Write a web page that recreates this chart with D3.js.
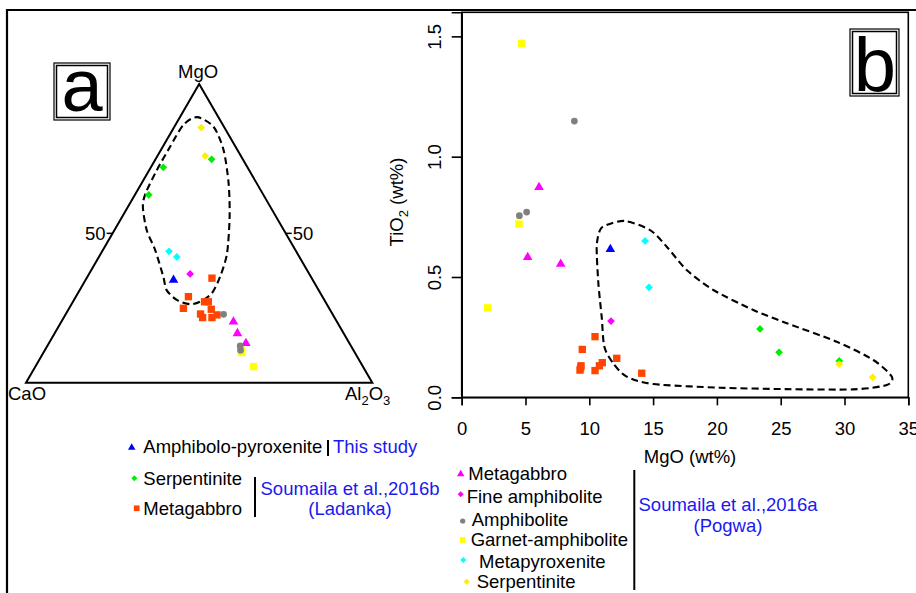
<!DOCTYPE html>
<html>
<head>
<meta charset="utf-8">
<script src="https://cdn.jsdelivr.net/npm/d3@7"></script>
<style>
  body { margin: 0; background: #fff; }
  svg { font-family: "Liberation Sans", Arial, sans-serif; }
</style>
</head>
<body>
<svg id="chart" width="916" height="593"></svg>
<script>
// ternary values: [MgO, CaO, Al2O3]
var amphPyxTern   = [[34.4, 40.2, 25.4]];
var serpLadTern   = [[74.8, 9.0, 16.2], [72.1, 24.3, 3.6], [62.9, 33.1, 4.0]];
var gabbroLadTern = [[35.0, 28.8, 36.2], [28.8, 38.7, 32.5], [24.9, 42.1, 33.0], [27.1, 34.9, 38.0],
                     [27.1, 33.8, 39.1], [24.6, 34.2, 41.2], [23.0, 38.1, 38.9], [21.8, 38.1, 40.1],
                     [21.8, 35.4, 42.8], [22.7, 33.5, 43.8]];
var gabbroPogTern = [[20.4, 29.9, 49.7], [16.5, 30.7, 52.8], [13.2, 29.9, 56.9]];
var fineAmphTern  = [[36.4, 34.4, 29.2]];
var amphTern      = [[22.9, 31.5, 45.6], [12.3, 32.0, 55.7], [10.9, 32.6, 56.5]];
var garnetTern    = [[10.9, 32.4, 56.7], [10.1, 32.7, 57.2], [5.4, 31.6, 63.0]];
var metaPyxTern   = [[44.0, 36.7, 19.3], [42.1, 35.4, 22.5]];
var serpPogTern   = [[85.4, 6.7, 7.9], [75.9, 10.3, 13.8]];
var ternField     = [[88.9, 6.2, 4.9], [85.7, 3.0, 11.3], [77.9, 4.0, 18.1], [66.8, 8.1, 25.1],
                     [55.6, 13.4, 31.0], [43.3, 20.3, 36.4], [35.5, 26.2, 38.3], [29.9, 31.4, 38.7],
                     [27.1, 36.2, 36.7], [26.3, 39.5, 34.2], [27.7, 42.6, 29.7], [31.0, 43.9, 25.1],
                     [35.5, 42.6, 21.9], [44.4, 40.5, 15.1], [51.1, 39.6, 9.3], [58.9, 36.8, 4.3],
                     [63.6, 33.6, 2.8], [71.2, 26.6, 2.2], [79.0, 18.9, 2.1], [86.3, 11.4, 2.3]];

// binary values: [MgO, TiO2]
var amphPyxBin   = [[11.65, 0.615]];
var serpLadBin   = [[23.38, 0.284], [24.87, 0.187], [29.59, 0.151]];
var gabbroLadBin = [[10.45, 0.252], [9.45, 0.199], [9.35, 0.131], [9.27, 0.113], [9.32, 0.122],
                    [10.45, 0.111], [10.79, 0.131], [11.02, 0.144], [12.15, 0.162], [14.11, 0.100]];
var gabbroPogBin = [[6.06, 0.873], [5.17, 0.582], [7.76, 0.554]];
var fineAmphBin  = [[11.70, 0.317]];
var amphBin      = [[8.83, 1.148], [4.52, 0.755], [5.09, 0.770]];
var garnetBin    = [[4.70, 1.471], [4.49, 0.720], [2.04, 0.372]];
var metaPyxBin   = [[14.37, 0.650], [14.68, 0.457]];
var serpPogBin   = [[29.59, 0.138], [32.21, 0.083]];
var binField     = [[10.84, 0.695], [11.36, 0.716], [12.80, 0.733], [14.76, 0.695], [16.07, 0.626],
                    [17.63, 0.529], [19.72, 0.446], [22.85, 0.363], [25.47, 0.308], [29.39, 0.231],
                    [32.26, 0.155], [33.70, 0.086], [33.31, 0.051], [30.69, 0.033], [25.47, 0.034],
                    [20.24, 0.040], [15.02, 0.055], [12.93, 0.086], [11.88, 0.141], [11.18, 0.210],
                    [10.97, 0.335], [10.71, 0.474], [10.58, 0.626]];

var xTicks = [0, 5, 10, 15, 20, 25, 30, 35];
var yTicks = [0, 0.5, 1.0, 1.5];

var svg = d3.select('#chart');
var font = 18.5;

// symbols
var shapes = {
  tri: { type: d3.symbolTriangle, size: 40, rot: 0 },
  dia: { type: d3.symbolSquare, size: 30, rot: 45 },
  sq:  { type: d3.symbolSquare, size: 54, rot: 0 },
  dot: { type: d3.symbolCircle, size: 36, rot: 0 }
};

// drawing order matters (later ones on top)
var series = [
  { tern: serpLadTern,   bin: serpLadBin,   shape: 'dia', color: '#00ee00' },
  { tern: gabbroLadTern, bin: gabbroLadBin, shape: 'sq',  color: '#ff4500' },
  { tern: gabbroPogTern, bin: gabbroPogBin, shape: 'tri', color: '#ff00ff' },
  { tern: fineAmphTern,  bin: fineAmphBin,  shape: 'dia', color: '#ff00ff' },
  { tern: garnetTern,    bin: garnetBin,    shape: 'sq',  color: '#ffff00' },
  { tern: amphTern,      bin: amphBin,      shape: 'dot', color: '#808080' },
  { tern: metaPyxTern,   bin: metaPyxBin,   shape: 'dia', color: '#00ffff' },
  { tern: serpPogTern,   bin: serpPogBin,   shape: 'dia', color: '#ffee00' },
  { tern: amphPyxTern,   bin: amphPyxBin,   shape: 'tri', color: '#0000ff' }
];

var drawMarks = function(g, pts, s, scale) {
  var sh = shapes[s.shape];
  var sym = d3.symbol().type(sh.type).size(sh.size * (scale || 1));
  g.selectAll(null).data(pts).enter().append('path')
    .attr('d', sym)
    .attr('transform', function(p) { return 'translate(' + p[0] + ',' + p[1] + ') rotate(' + sh.rot + ')'; })
    .attr('fill', s.color);
};

// outer frame
svg.append('path').attr('d', 'M7,593V10H916').attr('fill', 'none')
  .attr('stroke', '#000').attr('stroke-width', 2.2);

// ===== panel a : ternary =====
var tx = d3.scaleLinear().domain([0, 100]).range([26, 372.3]);   // Al2O3 + MgO/2
var ty = d3.scaleLinear().domain([0, 100]).range([382.7, 84]);   // MgO
var tern = function(d) {
  var s = d[0] + d[1] + d[2], m = 100 * d[0] / s, a = 100 * d[2] / s;
  return [tx(a + m / 2), ty(m)];
};
var ga = svg.append('g');
var corners = [tern([100, 0, 0]), tern([0, 100, 0]), tern([0, 0, 100])];
ga.append('path').attr('d', d3.line()(corners) + 'Z')
  .attr('fill', 'none').attr('stroke', '#000').attr('stroke-width', 2);

// 50 ticks
var midL = tern([50, 50, 0]), midR = tern([50, 0, 50]);
ga.append('line').attr('x1', midL[0] - 6).attr('x2', midL[0]).attr('y1', midL[1]).attr('y2', midL[1])
  .attr('stroke', '#000').attr('stroke-width', 1.5);
ga.append('line').attr('x1', midR[0]).attr('x2', midR[0] + 6).attr('y1', midR[1]).attr('y2', midR[1])
  .attr('stroke', '#000').attr('stroke-width', 1.5);
ga.append('text').text('50').attr('x', midL[0] - 7).attr('y', midL[1] + 6.5)
  .attr('text-anchor', 'end').attr('font-size', font);
ga.append('text').text('50').attr('x', midR[0] + 7).attr('y', midR[1] + 6.5)
  .attr('font-size', font);

// corner labels
ga.append('text').text('MgO').attr('x', corners[0][0] - 1).attr('y', 78)
  .attr('text-anchor', 'middle').attr('font-size', font);
ga.append('text').text('CaO').attr('x', 8).attr('y', 400).attr('font-size', font);
var al = ga.append('text').attr('x', 345).attr('y', 400).attr('font-size', font);
al.append('tspan').text('Al');
al.append('tspan').text('2').attr('font-size', 13).attr('dy', 5);
al.append('tspan').text('O').attr('dy', -5);
al.append('tspan').text('3').attr('font-size', 13).attr('dy', 5);

// field outline
ga.append('path').attr('d', d3.line().curve(d3.curveCardinalClosed.tension(0.2))(ternField.map(tern)))
  .attr('fill', 'none').attr('stroke', '#000').attr('stroke-width', 2.1).attr('stroke-dasharray', '7,4');

series.forEach(function(s) { drawMarks(ga, s.tern.map(tern), s); });

// panel letter a
ga.append('rect').attr('x', 54).attr('y', 63).attr('width', 56).attr('height', 57)
  .attr('fill', '#fff').attr('stroke', '#000').attr('stroke-width', 1.2);
ga.append('rect').attr('x', 56.5).attr('y', 65.5).attr('width', 51).attr('height', 52)
  .attr('fill', 'none').attr('stroke', '#000').attr('stroke-width', 1.5);
ga.append('text').text('a').attr('x', 82).attr('y', 111).attr('text-anchor', 'middle')
  .attr('font-size', 74);

// ===== panel b : TiO2 vs MgO =====
var x = d3.scaleLinear().domain([0, 35]).range([461.7, 908.3]);
var y = d3.scaleLinear().domain([0, 1.6]).range([397.3, 12.3]);
var gb = svg.append('g');

gb.append('rect').attr('x', x(0)).attr('y', y(1.6)).attr('width', x(35) - x(0)).attr('height', y(0) - y(1.6))
  .attr('fill', 'none').attr('stroke', '#000').attr('stroke-width', 1.6);

var xAxis = gb.append('g').attr('transform', 'translate(0,' + y(0) + ')')
  .call(d3.axisBottom(x).tickValues(xTicks).tickSize(8).tickPadding(17).tickFormat(d3.format('d')));
var yAxis = gb.append('g').attr('transform', 'translate(' + x(0) + ',0)')
  .call(d3.axisLeft(y).tickValues(yTicks).tickSize(10).tickFormat(d3.format('.1f')));
[xAxis, yAxis].forEach(function(a) {
  a.select('.domain').attr('stroke-width', 1.6);
  a.selectAll('.tick line').attr('stroke-width', 1.6);
  a.selectAll('text').attr('font-size', font).attr('font-family', null).attr('fill', '#000');
});
yAxis.selectAll('.tick text').attr('x', 0).attr('y', -21).attr('dy', null)
  .attr('text-anchor', 'middle').attr('transform', 'rotate(-90)');

gb.append('text').text('MgO (wt%)').attr('x', 690).attr('y', 463)
  .attr('text-anchor', 'middle').attr('font-size', font);
var yt = gb.append('text').attr('transform', 'translate(403,202) rotate(-90)')
  .attr('text-anchor', 'middle').attr('font-size', font);
yt.append('tspan').text('TiO');
yt.append('tspan').text('2').attr('font-size', 13).attr('dy', 5);
yt.append('tspan').text(' (wt%)').attr('dy', -5);

gb.append('path').attr('d', d3.line().curve(d3.curveCardinalClosed.tension(0.2))
    .x(function(d) { return x(d[0]); }).y(function(d) { return y(d[1]); })(binField))
  .attr('fill', 'none').attr('stroke', '#000').attr('stroke-width', 2.1).attr('stroke-dasharray', '7,4');

series.forEach(function(s) {
  drawMarks(gb, s.bin.map(function(d) { return [x(d[0]), y(d[1])]; }), s);
});

// panel letter b
gb.append('rect').attr('x', 850).attr('y', 29).attr('width', 49).attr('height', 67)
  .attr('fill', '#fff').attr('stroke', '#000').attr('stroke-width', 1.2);
gb.append('rect').attr('x', 852.5).attr('y', 31.5).attr('width', 44).attr('height', 62)
  .attr('fill', 'none').attr('stroke', '#000').attr('stroke-width', 1.5);
gb.append('text').text('b').attr('x', 875).attr('y', 91).attr('text-anchor', 'middle')
  .attr('font-size', 76);

// ===== legend =====
var blue = '#1a1aee';
var lg = svg.append('g').attr('font-size', font);
var legendItems = [
  { label: 'Amphibolo-pyroxenite', s: series[8], mx: 131.7, my: 447.5, tx: 143.3, ty: 453.3 },
  { label: 'Serpentinite',         s: series[0], mx: 134.3, my: 478.3, tx: 143.3, ty: 485 },
  { label: 'Metagabbro',           s: series[1], mx: 136.7, my: 508.3, tx: 143.3, ty: 515 },
  { label: 'Metagabbro',           s: series[2], mx: 460.7, my: 474,   tx: 468.3, ty: 480 },
  { label: 'Fine amphibolite',     s: series[3], mx: 460.7, my: 494.3, tx: 466.7, ty: 503.3 },
  { label: 'Amphibolite',          s: series[5], mx: 462.7, my: 521,   tx: 471.7, ty: 525.7 },
  { label: 'Garnet-amphibolite',   s: series[4], mx: 462.7, my: 540,   tx: 470.7, ty: 546 },
  { label: 'Metapyroxenite',       s: series[6], mx: 463.3, my: 560,   tx: 479,   ty: 568.3 },
  { label: 'Serpentinite',         s: series[7], mx: 466.7, my: 581.7, tx: 476.7, ty: 588.3 }
];
legendItems.forEach(function(it) {
  drawMarks(lg, [[it.mx, it.my]], it.s, 0.6);
  lg.append('text').text(it.label).attr('x', it.tx).attr('y', it.ty);
});

var bars = [[328, 440, 456], [255, 477, 517], [634.3, 470, 590]];
bars.forEach(function(b) {
  lg.append('line').attr('x1', b[0]).attr('x2', b[0]).attr('y1', b[1]).attr('y2', b[2])
    .attr('stroke', '#000').attr('stroke-width', 2);
});
lg.append('text').text('This study').attr('x', 333).attr('y', 453.3).attr('fill', blue);
lg.append('text').text('Soumaila et al.,2016b').attr('x', 350).attr('y', 495)
  .attr('text-anchor', 'middle').attr('fill', blue);
lg.append('text').text('(Ladanka)').attr('x', 350).attr('y', 515)
  .attr('text-anchor', 'middle').attr('fill', blue);
lg.append('text').text('Soumaila et al.,2016a').attr('x', 728).attr('y', 510.7)
  .attr('text-anchor', 'middle').attr('fill', blue);
lg.append('text').text('(Pogwa)').attr('x', 728).attr('y', 531.7)
  .attr('text-anchor', 'middle').attr('fill', blue);
</script>
</body>
</html>
